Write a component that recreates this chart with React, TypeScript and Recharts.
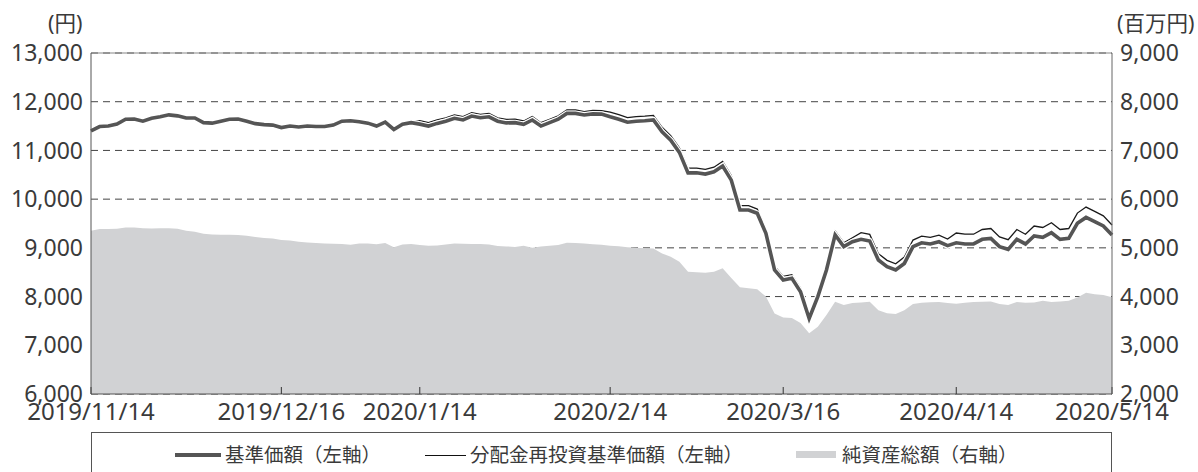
import React from 'react';
import { ComposedChart, Line, Area, XAxis, YAxis, CartesianGrid, ReferenceLine } from 'recharts';

const dates = [
  '2019/11/14', '2019/11/15', '2019/11/18', '2019/11/19', '2019/11/20', '2019/11/21', '2019/11/22',
  '2019/11/25', '2019/11/26', '2019/11/27', '2019/11/28', '2019/11/29',
  '2019/12/2', '2019/12/3', '2019/12/4', '2019/12/5', '2019/12/6',
  '2019/12/9', '2019/12/10', '2019/12/11', '2019/12/12', '2019/12/13',
  '2019/12/16', '2019/12/17', '2019/12/18', '2019/12/19', '2019/12/20',
  '2019/12/23', '2019/12/24', '2019/12/25', '2019/12/26', '2019/12/27', '2019/12/30',
  '2020/1/6', '2020/1/7', '2020/1/8', '2020/1/9', '2020/1/10',
  '2020/1/14', '2020/1/15', '2020/1/16', '2020/1/17',
  '2020/1/20', '2020/1/21', '2020/1/22', '2020/1/23', '2020/1/24',
  '2020/1/27', '2020/1/28', '2020/1/29', '2020/1/30', '2020/1/31',
  '2020/2/3', '2020/2/4', '2020/2/5', '2020/2/6', '2020/2/7', '2020/2/10',
  '2020/2/12', '2020/2/13', '2020/2/14',
  '2020/2/17', '2020/2/18', '2020/2/19', '2020/2/20', '2020/2/21',
  '2020/2/25', '2020/2/26', '2020/2/27', '2020/2/28',
  '2020/3/2', '2020/3/3', '2020/3/4', '2020/3/5', '2020/3/6',
  '2020/3/9', '2020/3/10', '2020/3/11', '2020/3/12', '2020/3/13',
  '2020/3/16', '2020/3/17', '2020/3/18', '2020/3/19',
  '2020/3/23', '2020/3/24', '2020/3/25', '2020/3/26', '2020/3/27', '2020/3/30', '2020/3/31',
  '2020/4/1', '2020/4/2', '2020/4/3',
  '2020/4/6', '2020/4/7', '2020/4/8', '2020/4/9', '2020/4/10',
  '2020/4/13', '2020/4/14', '2020/4/15', '2020/4/16', '2020/4/17',
  '2020/4/20', '2020/4/21', '2020/4/22', '2020/4/23', '2020/4/24',
  '2020/4/27', '2020/4/28', '2020/4/30', '2020/5/1',
  '2020/5/7', '2020/5/8', '2020/5/11', '2020/5/12', '2020/5/13', '2020/5/14',
];

// 基準価額（円）
const basePrice = [
  11400, 11490, 11500, 11540, 11640, 11645, 11600, 11660, 11690, 11730, 11710, 11665,
  11665, 11570, 11560, 11600, 11640, 11645, 11600, 11550, 11530, 11520,
  11470, 11500, 11480, 11500, 11490, 11490, 11520, 11600, 11610, 11590, 11560,
  11500, 11580, 11430, 11540, 11570, 11540, 11500, 11555, 11600, 11660, 11625, 11705, 11670, 11690,
  11600, 11565, 11570, 11535, 11625, 11500, 11570, 11640, 11760, 11760, 11727, 11750, 11745, 11690,
  11640, 11580, 11600, 11610, 11625, 11380, 11210, 10960, 10540,
  10540, 10515, 10560, 10680, 10390, 9776, 9776, 9710, 9300, 8545,
  8340, 8375, 8100, 7550, 8000, 8545, 9265, 9025, 9125, 9175, 9140,
  8750, 8615, 8545, 8680, 9025, 9105, 9080, 9125, 9045, 9105,
  9080, 9080, 9175, 9195, 9025, 8970, 9175, 9080, 9245, 9215, 9310, 9175,
  9195, 9505, 9625, 9540, 9450, 9265,
];

// 分配金再投資基準価額（円）
const reinvestPrice = [
  11400, 11490, 11500, 11540, 11640, 11645, 11600, 11660, 11690, 11730, 11710, 11665,
  11665, 11570, 11560, 11600, 11640, 11645, 11600, 11550, 11530, 11520,
  11480, 11510, 11490, 11510, 11500, 11500, 11530, 11610, 11620, 11600, 11570,
  11510, 11590, 11440, 11550, 11580, 11610, 11570, 11625, 11670, 11730, 11695, 11775, 11740, 11760,
  11670, 11635, 11640, 11605, 11695, 11570, 11640, 11710, 11830, 11830, 11797, 11820, 11815, 11785,
  11735, 11675, 11695, 11705, 11720, 11475, 11305, 11055, 10635,
  10635, 10610, 10655, 10775, 10485, 9865, 9865, 9797, 9385, 8622,
  8415, 8450, 8173, 7618, 8072, 8622, 9348, 9106, 9207, 9312, 9277,
  8881, 8744, 8673, 8810, 9160, 9242, 9216, 9262, 9181, 9305,
  9280, 9280, 9377, 9397, 9224, 9167, 9377, 9280, 9448, 9418, 9515, 9377,
  9397, 9714, 9837, 9750, 9658, 9469,
];

// 純資産総額（百万円）
const netAssets = [
  5350, 5385, 5385, 5390, 5420, 5420, 5400, 5395, 5405, 5405, 5390, 5350,
  5330, 5290, 5275, 5270, 5270, 5265, 5250, 5225, 5200, 5190,
  5160, 5150, 5125, 5110, 5100, 5090, 5085, 5080, 5065, 5090, 5090,
  5075, 5100, 5015, 5070, 5080, 5060, 5045, 5050, 5070, 5090, 5085, 5080, 5080, 5070,
  5040, 5030, 5020, 5045, 5000, 5030, 5045, 5060, 5105, 5100, 5090, 5075, 5065, 5045,
  5035, 5010, 5000, 4990, 4985, 4885, 4820, 4715, 4510,
  4500, 4490, 4510, 4580, 4380, 4190, 4170, 4150, 4000, 3650,
  3570, 3560, 3460, 3245, 3380, 3620, 3895, 3825, 3870, 3880, 3895,
  3720, 3660, 3640, 3720, 3845, 3875, 3885, 3890, 3870, 3855,
  3875, 3890, 3895, 3900, 3850, 3825, 3890, 3875, 3880, 3915, 3890, 3900,
  3915, 3980, 4080, 4050, 4030, 3985,
];

const xTicks = ['2019/11/14', '2019/12/16', '2020/1/14', '2020/2/14', '2020/3/16', '2020/4/14', '2020/5/14'];
const leftTicks = [6000, 7000, 8000, 9000, 10000, 11000, 12000, 13000];
const rightTicks = [2000, 3000, 4000, 5000, 6000, 7000, 8000, 9000];

const data = dates.map((date, i) => ({
  date,
  base: basePrice[i],
  reinvest: reinvestPrice[i],
  nav: netAssets[i],
}));

const FONT = "'Noto Sans', 'Noto Sans CJK JP', sans-serif";
const TEXT = '#3a3a3a';
const fmt = (v: number) => v.toLocaleString('en-US');

const legendText: React.CSSProperties = {
  position: 'absolute',
  top: 444,
  fontSize: 19.5,
  lineHeight: '22px',
  color: TEXT,
  fontFamily: FONT,
  whiteSpace: 'nowrap',
};

const unitText: React.CSSProperties = {
  position: 'absolute',
  top: 10,
  fontSize: 21.5,
  lineHeight: '26px',
  color: TEXT,
  fontFamily: FONT,
  whiteSpace: 'nowrap',
};

export default function App() {
  return (
    <div style={{ position: 'absolute', left: 0, top: 0, width: 1198, height: 472, overflow: 'hidden', background: '#fff' }}>
      <div style={{ ...unitText, left: 48 }}>(円)</div>
      <div style={{ ...unitText, left: 1117 }}>(百万円)</div>

      <ComposedChart
        width={1198}
        height={472}
        data={data}
        margin={{ top: 53, right: 6, left: 6, bottom: 48 }}
        style={{ position: 'absolute', left: 0, top: 0 }}
      >
        <CartesianGrid yAxisId="left" vertical={false} stroke="#444" strokeDasharray="7 5" />
        <XAxis
          dataKey="date"
          type="category"
          ticks={xTicks}
          interval={0}
          height={30}
          tickSize={-7}
          tickMargin={16}
          axisLine={{ stroke: '#555' }}
          tickLine={{ stroke: '#333' }}
          tick={{ fill: TEXT, fontSize: 24, fontFamily: FONT }}
        />
        <YAxis
          yAxisId="left"
          width={85}
          domain={[6000, 13000]}
          ticks={leftTicks}
          tickFormatter={fmt}
          tickLine={false}
          axisLine={{ stroke: '#555' }}
          tick={{ fill: TEXT, fontSize: 23, fontFamily: FONT }}
        />
        <YAxis
          yAxisId="right"
          orientation="right"
          width={80}
          domain={[2000, 9000]}
          ticks={rightTicks}
          tickFormatter={fmt}
          tickLine={false}
          axisLine={{ stroke: '#666' }}
          tick={{ fill: TEXT, fontSize: 23, fontFamily: FONT, textAnchor: 'start' }}
        />
        <Area
          yAxisId="right"
          dataKey="nav"
          type="linear"
          stroke="none"
          fill="#d1d2d4"
          fillOpacity={1}
          isAnimationActive={false}
        />
        <Line
          yAxisId="left"
          dataKey="reinvest"
          type="linear"
          stroke="#1a1a1a"
          strokeWidth={1.3}
          dot={false}
          activeDot={false}
          isAnimationActive={false}
        />
        <Line
          yAxisId="left"
          dataKey="base"
          type="linear"
          stroke="#ffffff"
          strokeWidth={6}
          dot={false}
          activeDot={false}
          isAnimationActive={false}
        />
        <Line
          yAxisId="left"
          dataKey="base"
          type="linear"
          stroke="#555555"
          strokeWidth={3.6}
          dot={false}
          activeDot={false}
          isAnimationActive={false}
        />
        <ReferenceLine yAxisId="left" y={13000} stroke="#888" strokeWidth={1.2} />
      </ComposedChart>

      <div style={{ position: 'absolute', left: 91, top: 432, width: 1019, height: 44, border: '1px solid #555' }} />
      <div style={{ position: 'absolute', left: 175, top: 453, width: 46, height: 4, background: '#555' }} />
      <div style={{ ...legendText, left: 225 }}>基準価額（左軸）</div>
      <div style={{ position: 'absolute', left: 425, top: 454.5, width: 41, height: 1.5, background: '#111' }} />
      <div style={{ ...legendText, left: 470 }}>分配金再投資基準価額（左軸）</div>
      <div style={{ position: 'absolute', left: 796, top: 451, width: 40, height: 7, background: '#d1d2d4' }} />
      <div style={{ ...legendText, left: 842 }}>純資産総額（右軸）</div>
    </div>
  );
}
